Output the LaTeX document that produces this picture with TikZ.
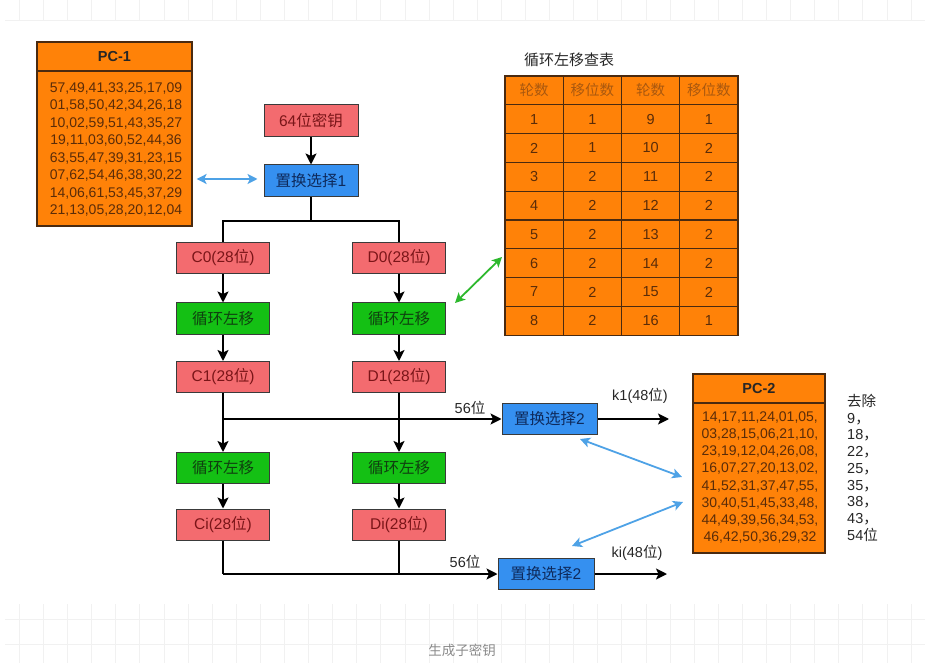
\documentclass[tikz,border=0pt]{standalone}
\usepackage{fontspec}
\setmainfont{Liberation Sans}
\newfontfamily\cjk{Noto Sans CJK SC}
\newcommand\zh[1]{{\cjk #1}}
\usetikzlibrary{arrows.meta}
\definecolor{orangefill}{HTML}{FF8208}
\definecolor{tableedge}{HTML}{4A2A10}
\definecolor{tabletext}{HTML}{5A2C08}
\definecolor{headtext}{HTML}{A9580F}
\definecolor{pinkfill}{HTML}{F36B6F}
\definecolor{pinktext}{HTML}{7A1518}
\definecolor{bluefill}{HTML}{3590F0}
\definecolor{bluetext}{HTML}{0E2A5C}
\definecolor{greenfill}{HTML}{14C014}
\definecolor{greentext}{HTML}{0F400F}
\definecolor{boxedge}{HTML}{3A3A3A}
\definecolor{linkblue}{HTML}{4EA2E6}
\definecolor{linkgreen}{HTML}{2DB82D}
\definecolor{gridline}{HTML}{F1F1F1}
\definecolor{captiongray}{HTML}{8A8A8A}
\tikzset{
  box/.style={draw=boxedge, line width=1pt, minimum width=93pt, minimum height=31pt, inner sep=0pt, font=\fontsize{15.5}{17}\selectfont},
  pinkbox/.style={box, fill=pinkfill, text=pinktext},
  bluebox/.style={box, fill=bluefill, text=bluetext},
  greenbox/.style={box, fill=greenfill, text=greentext},
  flow/.style={line width=1.8pt, black},
  flowarrow/.style={flow, -{Stealth[length=11pt,width=11pt,inset=2.5pt]}},
  linkarrow/.style={line width=1.8pt, {Stealth[length=10pt,width=10pt,inset=2.5pt]}-{Stealth[length=10pt,width=10pt,inset=2.5pt]}},
  tablebox/.style={draw=tableedge, line width=1.2pt, fill=orangefill, inner sep=0pt},
  tabletxt/.style={text=tabletext, font=\fontsize{14}{17.5}\selectfont, align=center, inner sep=0pt},
  cell/.style={draw=tableedge, line width=1.2pt, fill=orangefill, minimum width=58.25pt, minimum height=28.8pt, inner sep=0pt, text=tabletext, font=\fontsize{14.5}{16}\selectfont},
  plain/.style={font=\fontsize{14.5}{16}\selectfont, inner sep=0pt, text=black!85},
  gridstyle/.style={draw=gridline, line width=0.8pt}
}
\begin{document}
\begin{tikzpicture}[x=1pt,y=-1pt]
\useasboundingbox (0,0) rectangle (935,663);
% faint page grid
\foreach \i in {0,...,37} {
  \draw[gridstyle] (19.3+24.1*\i,0) -- (19.3+24.1*\i,20);
  \draw[gridstyle] (19.3+24.1*\i,604) -- (19.3+24.1*\i,663);
}
\draw[gridstyle] (5,20) -- (925,20);
\draw[gridstyle] (5,619) -- (925,619);
\draw[gridstyle] (5,644) -- (925,644);

% PC-1 table
\node[tablebox, minimum width=155pt, minimum height=184pt] (pc1) at (114.5,134) {};
\draw[draw=tableedge, line width=1.2pt] (37,71) -- (192,71);
\node[tabletxt, font=\bfseries\fontsize{14.5}{16}\selectfont, text=black!85] (pc1h) at (114.5,57) {PC-1};
\node[tabletxt] (pc1b) at (116,149.5) {57,49,41,33,25,17,09\\01,58,50,42,34,26,18\\10,02,59,51,43,35,27\\19,11,03,60,52,44,36\\63,55,47,39,31,23,15\\07,62,54,46,38,30,22\\14,06,61,53,45,37,29\\21,13,05,28,20,12,04};

% main flow
\node[pinkbox, minimum width=94pt, minimum height=32pt] (key) at (311,121) {64\zh{位密钥}};
\node[bluebox, minimum width=94pt, minimum height=32pt] (ps1) at (311,181) {\zh{置换选择}1};
\node[pinkbox] (c0) at (223,258) {C0(28\zh{位})};
\node[pinkbox] (d0) at (399,258) {D0(28\zh{位})};
\node[greenbox] (slc1) at (223,318.5) {\zh{循环左移}};
\node[greenbox] (sld1) at (399,318.5) {\zh{循环左移}};
\node[pinkbox] (c1) at (223,377) {C1(28\zh{位})};
\node[pinkbox] (d1) at (399,377) {D1(28\zh{位})};
\node[greenbox] (slc2) at (223,468) {\zh{循环左移}};
\node[greenbox] (sld2) at (399,468) {\zh{循环左移}};
\node[pinkbox] (ci) at (223,524.5) {Ci(28\zh{位})};
\node[pinkbox] (di) at (399,524.5) {Di(28\zh{位})};
\node[bluebox, minimum width=95pt] (psa) at (549.5,419) {\zh{置换选择}2};
\node[bluebox, minimum width=96pt] (psb) at (546,574) {\zh{置换选择}2};

\coordinate (split) at (311,221);
\coordinate (jc1) at (223,419);
\coordinate (jci) at (223,574);
\coordinate (jdi) at (399,574);
\coordinate (k1end) at (669,419);
\coordinate (kiend) at (667,574);

\draw[flowarrow] (key) -- (ps1);
\draw[flow] (ps1.south) -- (split) -- (split -| c0) -- (c0.north);
\draw[flow] (split) -- (split -| d0) -- (d0.north);
\draw[flowarrow] (c0) -- (slc1);
\draw[flowarrow] (d0) -- (sld1);
\draw[flowarrow] (slc1) -- (c1);
\draw[flowarrow] (sld1) -- (d1);
\draw[flowarrow] (c1) -- (slc2);
\draw[flowarrow] (d1) -- (sld2);
\draw[flowarrow] (slc2) -- (ci);
\draw[flowarrow] (sld2) -- (di);
\draw[flowarrow] (jc1) -- (psa.west);
\draw[flow] (ci.south) -- (jci);
\draw[flow] (di.south) -- (jdi);
\draw[flowarrow] (jci) -- (psb.west);
\draw[flowarrow] (psa.east) -- (k1end);
\draw[flowarrow] (psb.east) -- (kiend);

\node[plain, anchor=base] (l56a) at (470,413) {56\zh{位}};
\node[plain, anchor=base] (l56b) at (465,567) {56\zh{位}};
\node[plain, anchor=base] (lk1) at (640,400) {k1(48\zh{位})};
\node[plain, anchor=base] (lki) at (637,557) {ki(48\zh{位})};

% shift table
\node[font=\cjk\fontsize{15}{17}\selectfont, inner sep=0pt, text=black!85] (stitle) at (569,60) {循环左移查表};
\foreach \r/\a/\b/\c/\d in {1/1/1/9/1, 2/2/1/10/2, 3/3/2/11/2, 4/4/2/12/2, 5/5/2/13/2, 6/6/2/14/2, 7/7/2/15/2, 8/8/2/16/1} {
  \node[cell] (t\r a) at (534.125,90.4+28.8*\r) {\a};
  \node[cell] (t\r b) at (592.375,90.4+28.8*\r) {\b};
  \node[cell] (t\r c) at (650.625,90.4+28.8*\r) {\c};
  \node[cell] (t\r d) at (708.875,90.4+28.8*\r) {\d};
}
\node[cell, text=headtext] (h1) at (534.125,90.4) {\zh{轮数}};
\node[cell, text=headtext] (h2) at (592.375,90.4) {\zh{移位数}};
\node[cell, text=headtext] (h3) at (650.625,90.4) {\zh{轮数}};
\node[cell, text=headtext] (h4) at (708.875,90.4) {\zh{移位数}};

% PC-2 table
\node[tablebox, minimum width=132pt, minimum height=179pt] (pc2) at (759,463.5) {};
\draw[draw=tableedge, line width=1.2pt] (693,403) -- (825,403);
\node[tabletxt, font=\bfseries\fontsize{14.5}{16}\selectfont, text=black!85] (pc2h) at (759,389) {PC-2};
\node[tabletxt, font=\fontsize{14}{17.1}\selectfont] (pc2b) at (760,477.5) {14,17,11,24,01,05,\\03,28,15,06,21,10,\\23,19,12,04,26,08,\\16,07,27,20,13,02,\\41,52,31,37,47,55,\\30,40,51,45,33,48,\\44,49,39,56,34,53,\\46,42,50,36,29,32};
\node[plain, anchor=north west, align=left, font=\fontsize{14.5}{16.75}\selectfont] (drop) at (847,394) {\zh{去除}\\9\zh{，}\\18\zh{，}\\22\zh{，}\\25\zh{，}\\35\zh{，}\\38\zh{，}\\43\zh{，}\\54\zh{位}};

% link arrows
\draw[linkarrow, linkblue] ([xshift=4pt]pc1.east |- 0,179) coordinate (pa) -- ([xshift=-6pt]ps1.west |- 0,179) coordinate (pb);
\coordinate (ga) at (455,303);
\coordinate (gb) at (502,257);
\draw[linkarrow, linkgreen] (ga) -- (gb);
\coordinate (ba1) at (580,439);
\coordinate (ba2) at (682,477);
\coordinate (bb1) at (683,502);
\coordinate (bb2) at (572,546);
\draw[linkarrow, linkblue] (ba1) -- (ba2);
\draw[linkarrow, linkblue] (bb1) -- (bb2);

% caption
\node[font=\cjk\fontsize{13.5}{15}\selectfont, text=captiongray, inner sep=0pt] (cap) at (462,650) {生成子密钥};
\end{tikzpicture}
\end{document}
